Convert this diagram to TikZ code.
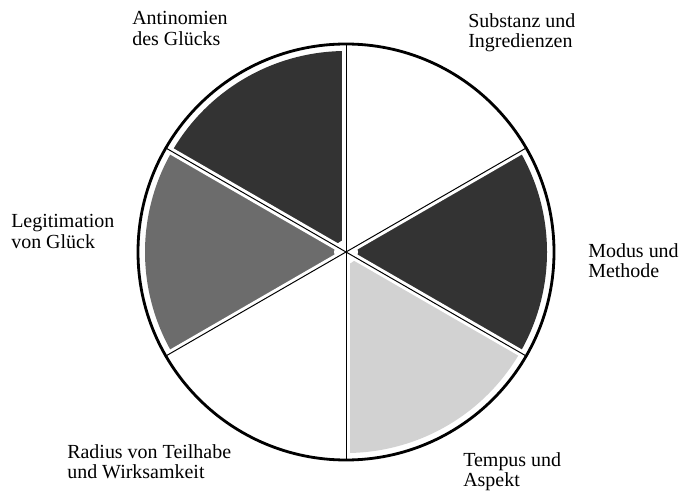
\documentclass[tikz,border=0pt]{standalone}
\usepackage{fontspec}
\setmainfont{Liberation Serif}
\definecolor{darkseg}{HTML}{333333}
\definecolor{midseg}{HTML}{6C6C6C}
\definecolor{lightseg}{HTML}{D2D2D2}
\tikzset{lbl/.style={anchor=north west, inner sep=0pt, align=left, font=\fontsize{14.2}{14.4}\selectfont}}

\begin{document}
\begin{tikzpicture}[x=0.025cm, y=0.025cm]
\useasboundingbox (0,0) rectangle (681,492);
\coordinate (c) at (346,240);
\foreach \a/\col in {90/darkseg, 150/midseg, 270/lightseg, -30/darkseg} {
  \fill[\col] (c) -- ++(\a:201) arc (\a:\a+60:201) -- cycle;
}
\foreach \a in {30,90,150} \draw[white, line width=5pt] (c) ++(\a:205) -- ++(\a+180:410);
\fill[white] (c) circle (12);
\foreach \a in {30,90,150} \draw[line width=0.7pt] (c) ++(\a:208) -- ++(\a+180:416);
\draw[line width=2pt] (c) circle (208);
\node[lbl] (antinomien) at (132,480.5) {Antinomien\\des Glücks};
\node[lbl] (substanz) at (468,478.5) {Substanz und\\Ingredienzen};
\node[lbl] (modus) at (588,248.5) {Modus und\\Methode};
\node[lbl] (legitimation) at (11,277.5) {Legitimation\\von Glück};
\node[lbl] (radius) at (67,47.5) {Radius von Teilhabe\\und Wirksamkeit};
\node[lbl] (tempus) at (463,39.5) {Tempus und\\Aspekt};
\end{tikzpicture}
\end{document}
